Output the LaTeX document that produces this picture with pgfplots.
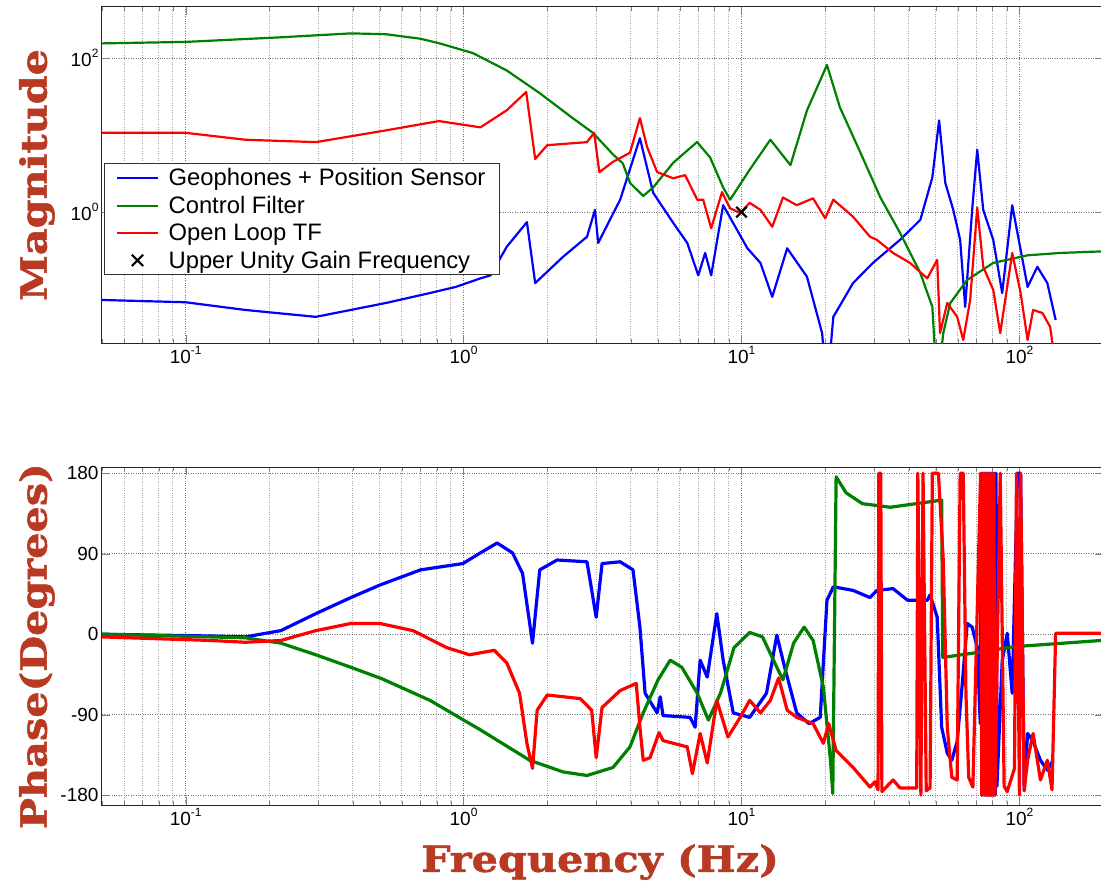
\documentclass[border=0pt]{standalone}
\usepackage{fontspec}
\setmainfont{Liberation Sans}
\newfontfamily\labelfont[FakeStretch=1.15, BoldFeatures={FakeBold=1.5}]{DejaVu Serif}
\usepackage{pgfplots}
\pgfplotsset{compat=1.18}
\definecolor{mblue}{rgb}{0,0,1}
\definecolor{mgreen}{rgb}{0,0.5,0}
\definecolor{mred}{rgb}{1,0,0}
\definecolor{lab}{RGB}{185,58,35}
\newcommand\tp[1]{10\raisebox{0.45em}{\fontsize{12}{12}\selectfont #1}}
\pgfplotsset{
 lineleg/.style={legend image code/.code={\draw[##1, line width=2pt] (0pt,0pt) -- (41pt,0pt); \path (48pt,0pt);}},
 markleg/.style={legend image code/.code={\draw[##1, mark size=8pt, line width=2pt] plot coordinates {(20pt,0pt)}; \path (48pt,0pt);}},
}
\begin{document}
\begin{tikzpicture}
\path[use as bounding box] (0,0) rectangle (1101pt,-885pt);
% ---------------- Magnitude ----------------
\begin{axis}[scale only axis, width=1001pt, height=336pt,
  at={(102pt,-7pt)}, anchor=north west,
  xmode=log, ymode=log, xmin=0.05, xmax=200, ymin=0.02, ymax=460,
  tick align=inside, major tick length=8pt, minor tick length=4pt,
  axis line style={black!85, line width=1pt},
  xtick={0.1,1,10,100},
  xticklabels={\tp{-1},\tp{0},\tp{1},\tp{2}},
  minor xtick={0.05,0.06,0.07,0.08,0.09,0.2,0.3,0.4,0.5,0.6,0.7,0.8,0.9,2,3,4,5,6,7,8,9,20,30,40,50,60,70,80,90,200},
  ytick={1,100}, yticklabels={\tp{0},\tp{2}}, minor ytick={},
  xmajorgrids=true, xminorgrids=true, ymajorgrids=true,
  major grid style={dotted, line width=1.1pt, black!55},
  minor grid style={dotted, line width=1pt, black!35},
  tick label style={font=\fontsize{19}{22}\selectfont},
  ylabel={Magnitude},
  ylabel style={at={(axis description cs:-0.065,0.5)}, anchor=center,
    font=\labelfont\bfseries\fontsize{36}{40}\selectfont, text=lab},
  legend style={at={(axis description cs:0.002,0.536)}, anchor=north west,
    draw=black!80, line width=1pt, fill=white,
    font=\fontsize{23.8}{26}\selectfont, cells={anchor=west},
    inner xsep=12pt, inner ysep=3pt, row sep=5pt},
  legend cell align=left]
\addplot[mblue, line width=2.2pt, line join=round, lineleg] coordinates {
(0.050,0.0724)(0.1,0.0676)(0.164,0.0537)(0.294,0.0437)(0.525,0.0661)(0.757,0.0891)
(0.938,0.107)(1.15,0.138)(1.25,0.151)(1.43,0.355)(1.69,0.741)(1.81,0.120)(2.28,0.263)(2.78,0.479)
(2.97,1.07)(3.05,0.398)(3.66,1.45)(4.31,9.12)(4.81,1.78)(5.68,0.724)(6.38,0.398)
(6.99,0.151)(7.40,0.295)(7.78,0.151)(8.59,1.23)(10.5,0.339)(11.7,0.219)(12.9,0.0794)
(14.6,0.339)(17.2,0.145)(19.5,0.0269)(20.3,0.005)(21.4,0.0437)(25.2,0.120)(29.7,0.219)
(37.2,0.437)(44.0,0.794)(48.6,2.82)(51.4,15.5)(54.1,2.40)(57.8,1.07)(61.2,0.437)
(63.8,0.0589)(67.6,1.07)(70.5,6.46)(74.1,1.07)(80.5,0.437)(86.7,0.0891)(94.2,1.23)
(101,0.324)(107,0.107)(116,0.195)(126,0.120)(135,0.0398)};
\addlegendentry{Geophones + Position Sensor}
\addplot[mgreen, line width=2.2pt, line join=round, lineleg] coordinates {
(0.050,155)(0.1,162)(0.220,186)(0.393,209)(0.525,204)(0.701,178)(0.82,155)(1.08,116)(1.43,69)
(1.88,35)(2.47,16.6)(2.92,10.7)(3.45,5.6)(3.74,4.3)(3.97,2.40)(4.43,1.62)(4.81,2.09)(5.68,4.37)
(6.92,8.13)(7.71,5.13)(8.59,2.09)(9.10,1.45)(10.7,3.55)(12.7,8.71)(15.0,4.07)(17.2,20.9)
(20.3,81.3)(22.6,22.9)(26.8,5.89)(31.6,1.55)(37.2,0.537)(44.0,0.162)(48.6,0.0589)
(50.6,0.005)(53.2,0.0269)(56.4,0.0661)(64.9,0.132)(80.5,0.219)(107,0.275)(140,0.295)(197,0.309)};
\addlegendentry{Control Filter}
\addplot[mred, line width=2.2pt, line join=round, lineleg] coordinates {
(0.050,10.7)(0.1,10.7)(0.164,8.7)(0.294,8.1)(0.525,11.5)(0.815,15.2)(1.15,12.6)(1.43,21)
(1.68,36.3)(1.81,4.9)(2.00,7.4)(2.78,8.1)(2.95,10.7)(3.08,3.3)(3.45,4.5)(3.97,5.89)
(4.31,16.6)(4.57,7.08)(4.97,3.31)(5.68,2.75)(6.27,3.02)(6.93,1.45)(7.28,1.45)(7.78,0.617)
(8.51,1.82)(9.10,1.12)(9.89,0.977)(10.7,1.32)(11.7,1.07)(12.9,0.646)(14.1,1.55)(15.8,1.23)
(18.1,1.51)(20.0,0.832)(21.4,1.45)(25.2,0.871)(29.0,0.479)(30.7,0.437)(35.1,0.295)
(40.4,0.219)(46.6,0.138)(50.6,0.240)(51.8,0.0269)(55.0,0.0661)(59.7,0.0437)(62.8,0.0219)
(66.5,0.0724)(70.5,1.15)(74.1,0.195)(80.5,0.0977)(85.3,0.0269)(88.9,0.0724)(94.2,0.295)
(101,0.0891)(107,0.0219)(112,0.0537)(121,0.0490)(129,0.0324)(132,0.0178)};
\addlegendentry{Open Loop TF}
\addplot[only marks, mark=x, mark size=7.5pt, black, line width=2pt, markleg] coordinates {(10,1)};
\addlegendentry{Upper Unity Gain Frequency}
\end{axis}
% ---------------- Phase ----------------
\begin{axis}[scale only axis, width=1001pt, height=338pt,
  at={(102pt,-467pt)}, anchor=north west,
  xmode=log, xmin=0.05, xmax=200, ymin=-191, ymax=187,
  tick align=inside, major tick length=8pt, minor tick length=4pt,
  axis line style={black!85, line width=1pt},
  xtick={0.1,1,10,100},
  xticklabels={\tp{-1},\tp{0},\tp{1},\tp{2}},
  minor xtick={0.05,0.06,0.07,0.08,0.09,0.2,0.3,0.4,0.5,0.6,0.7,0.8,0.9,2,3,4,5,6,7,8,9,20,30,40,50,60,70,80,90,200},
  ytick={-180,-90,0,90,180}, yticklabels={-180,-90,0,90,180},
  xmajorgrids=true, xminorgrids=true, ymajorgrids=true,
  major grid style={dotted, line width=1.1pt, black!55},
  minor grid style={dotted, line width=1pt, black!35},
  tick label style={font=\fontsize{19}{22}\selectfont},
  ylabel={Phase(Degrees)},
  ylabel style={at={(axis description cs:-0.065,0.47)}, anchor=center,
    font=\labelfont\bfseries\fontsize{36}{40}\selectfont, text=lab},
  xlabel={Frequency (Hz)},
  xlabel style={at={(axis description cs:0.4975,-0.169)}, anchor=center,
    font=\labelfont\bfseries\fontsize{36}{40}\selectfont, text=lab}]
\addplot[mblue, line width=3.2pt, line join=round] coordinates {
(0.050,0)(0.123,-2)(0.164,-3)(0.220,4)(0.294,23)(0.393,41)(0.500,55)(0.701,72)(0.994,79)
(1.15,91)(1.32,102)(1.50,91)(1.63,68)(1.77,-10)(1.88,72)(2.17,83)(2.78,81)(3.00,19)(3.15,79)
(3.66,81)(4.07,72)(4.31,8)(4.50,-66)(4.97,-88)(5.10,-70)(5.22,-91)(6.53,-93)(6.81,-104)
(7.10,-29)(7.53,-48)(8.15,23)(8.59,-29)(9.34,-88)(10.7,-93)(12.3,-66)(13.4,-1)(14.3,-37)
(15.8,-88)(17.5,-100)(19.2,-93)(20.3,38)(21.4,53)(25.2,49)(29.0,41)(30.7,49)(35.1,51)
(39.6,38)(46.6,38)(47.7,44)(50.6,19)(52.5,-104)(55.0,-133)(57.1,-141)(59.7,-120)(62.1,-60)
(64.9,12)(67.6,8)(70.5,-15)(72.3,-100)(72.8,180)(73.4,-180)(74.0,180)(74.6,-180)(75.2,180)
(75.8,-180)(76.4,180)(77.0,-180)(77.6,180)(78.2,-180)(78.8,180)(79.4,-180)(80.0,180)
(80.6,-180)(81.2,180)(81.8,-180)(82.4,180)(83.0,-170)(86.7,-30)(90.4,1)(94.2,-66)(98.4,180)
(101,180)(104,-175)(107,-111)(112,-120)(119,-141)(126,-152)(132,-141)};
\addplot[mgreen, line width=3.2pt, line join=round] coordinates {
(0.050,0)(0.164,-4)(0.220,-10)(0.294,-23)(0.393,-37)(0.51,-50)(0.757,-74)(1.15,-107)
(1.73,-141)(2.28,-154)(2.78,-158)(3.45,-149)(3.97,-126)(4.43,-88)(5.01,-51)(5.54,-29)
(6.10,-37)(6.93,-66)(7.6,-96)(8.4,-66)(9.4,-15)(10.7,2)(11.9,-3)(13.4,-37)(14.1,-51)
(15.4,-10)(16.8,8)(18.1,-7)(19.7,-59)(20.9,-141)(21.3,-178)(21.9,176)(23.8,158)(27.2,146)
(34.3,142)(47.3,148)(52.5,150)(53.0,-26)(72.3,-20)(95.2,-14)(197,-7)};
\addplot[mred, line width=3.2pt, line join=round] coordinates {
(0.050,-3)(0.123,-7)(0.164,-9)(0.220,-7)(0.294,4)(0.393,12)(0.500,12)(0.658,4)(0.87,-15)
(1.05,-23)(1.29,-18)(1.43,-32)(1.59,-66)(1.69,-122)(1.77,-150)(1.84,-85)(2.00,-68)(2.63,-72)
(2.89,-85)(3.00,-138)(3.15,-82)(3.66,-63)(4.18,-55)(4.31,-104)(4.43,-141)(4.69,-138)
(5.05,-110)(5.22,-119)(6.38,-126)(6.66,-156)(7.10,-111)(7.53,-144)(8.15,-74)(8.94,-115)
(9.89,-93)(10.7,-74)(11.7,-88)(12.7,-74)(13.6,-49)(14.6,-85)(15.8,-93)(18.1,-100)(19.7,-122)
(20.6,-100)(21.9,-130)(25.2,-149)(29.0,-171)(30.2,-165)(31.0,-174)(31.2,180)(31.7,180)
(32.0,-176)(35.1,-163)(37.2,-172)(42.7,-172)(43.1,180)(44.2,-180)(45.0,180)(46.2,-175)
(47.7,-172)(48.6,180)(51.1,180)(53.2,83)(55.0,-104)(57.1,-160)(59.7,-163)(61.2,180)(62.8,180)
(64.2,-66)(65.7,-160)(68.0,-171)(72.5,180)(73.2,-180)(73.9,180)(74.6,-180)(75.3,180)
(76.0,-180)(76.7,180)(77.4,-180)(78.1,180)(78.8,-180)(79.5,180)(80.2,-180)(80.9,180)
(81.6,-180)(85.3,180)(88.1,-170)(90.4,-176)(96.0,-150)(97.6,180)(100,-180)(101,180)
(104,-175)(107,-141)(112,-111)(119,-163)(126,-141)(131,-174)(135,1)(197,1)};
\end{axis}
\end{tikzpicture}
\end{document}
